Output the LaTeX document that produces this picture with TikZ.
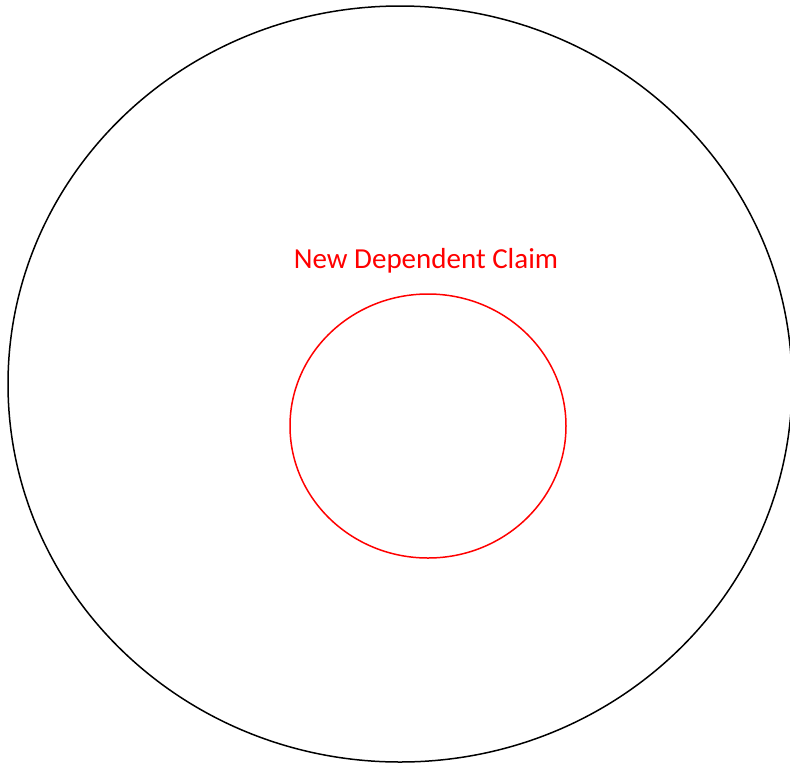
\documentclass[tikz,border=0pt]{standalone}
\usepackage{fontspec}
\setmainfont{Carlito}
\usetikzlibrary{shapes.geometric}
\begin{document}
\begin{tikzpicture}[x=1pt,y=-1pt,
  outer/.style={draw=black,line width=1.5pt},
  inner/.style={draw=red,line width=1.5pt},
  lbl/.style={text=red,font=\fontsize{29}{34}\selectfont,inner sep=0pt,anchor=base}]
\useasboundingbox (0,0) rectangle (790,764);
\begin{scope}
\clip (0,0) rectangle (790,764);
\node[outer,ellipse,minimum width=784pt,minimum height=756pt,inner sep=0pt] (big) at (400,384) {};
\end{scope}
\node[inner,ellipse,minimum width=276pt,minimum height=264pt,inner sep=0pt] (small) at (428,426) {};
\node[lbl] (claim) at (426,268) {New Dependent Claim};
\end{tikzpicture}
\end{document}
